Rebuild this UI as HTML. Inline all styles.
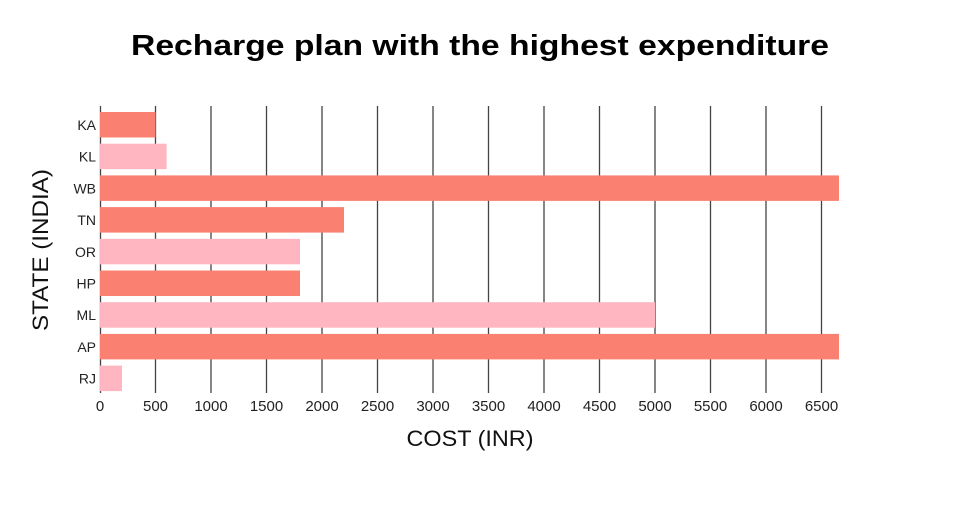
<!DOCTYPE html>
<html><head><style>body{margin:0;background:#fff}</style></head><body>
<svg width="960" height="500" xmlns="http://www.w3.org/2000/svg" font-family="Liberation Sans, sans-serif">
<text x="480" y="55" text-anchor="middle" font-size="29" font-weight="bold" fill="#000" textLength="698" lengthAdjust="spacingAndGlyphs">Recharge plan with the highest expenditure</text>
<g stroke="#444" stroke-width="1.3">
<line x1="100.5" y1="106" x2="100.5" y2="393"/>
<line x1="155.5" y1="106" x2="155.5" y2="393"/>
<line x1="211" y1="106" x2="211" y2="393"/>
<line x1="266.5" y1="106" x2="266.5" y2="393"/>
<line x1="322" y1="106" x2="322" y2="393"/>
<line x1="377.5" y1="106" x2="377.5" y2="393"/>
<line x1="433" y1="106" x2="433" y2="393"/>
<line x1="488.5" y1="106" x2="488.5" y2="393"/>
<line x1="544" y1="106" x2="544" y2="393"/>
<line x1="599.5" y1="106" x2="599.5" y2="393"/>
<line x1="655" y1="106" x2="655" y2="393"/>
<line x1="710.5" y1="106" x2="710.5" y2="393"/>
<line x1="766" y1="106" x2="766" y2="393"/>
<line x1="821.5" y1="106" x2="821.5" y2="393"/>
</g>
<g>
<rect x="100" y="112" width="55.5" height="25.5" fill="#FA8072"/>
<rect x="100" y="143.7" width="66.6" height="25.5" fill="#FFB6C1"/>
<rect x="100" y="175.4" width="739" height="25.5" fill="#FA8072"/>
<rect x="100" y="207.1" width="244" height="25.5" fill="#FA8072"/>
<rect x="100" y="238.8" width="200" height="25.5" fill="#FFB6C1"/>
<rect x="100" y="270.5" width="200" height="25.5" fill="#FA8072"/>
<rect x="100" y="302.2" width="555" height="25.5" fill="#FFB6C1"/>
<rect x="100" y="333.9" width="739" height="25.5" fill="#FA8072"/>
<rect x="100" y="365.6" width="22" height="25.5" fill="#FFB6C1"/>
</g>
<g font-size="14" fill="#222" text-anchor="end">
<text x="96" y="130">KA</text>
<text x="96" y="161.7">KL</text>
<text x="96" y="193.4">WB</text>
<text x="96" y="225.1">TN</text>
<text x="96" y="256.8">OR</text>
<text x="96" y="288.5">HP</text>
<text x="96" y="320.2">ML</text>
<text x="96" y="351.9">AP</text>
<text x="96" y="383.6">RJ</text>
</g>
<g font-size="15" fill="#222" text-anchor="middle">
<text x="100" y="411">0</text><text x="155.5" y="411">500</text><text x="211" y="411">1000</text><text x="266.5" y="411">1500</text><text x="322" y="411">2000</text><text x="377.5" y="411">2500</text><text x="433" y="411">3000</text><text x="488.5" y="411">3500</text><text x="544" y="411">4000</text><text x="599.5" y="411">4500</text><text x="655" y="411">5000</text><text x="710.5" y="411">5500</text><text x="766" y="411">6000</text><text x="821.5" y="411">6500</text>
</g>
<text x="470" y="446" text-anchor="middle" font-size="22" fill="#111" textLength="127" lengthAdjust="spacingAndGlyphs">COST (INR)</text>
<text transform="translate(48,250) rotate(-90)" text-anchor="middle" font-size="22" fill="#111" textLength="162" lengthAdjust="spacingAndGlyphs">STATE (INDIA)</text>
</svg>
</body></html>
